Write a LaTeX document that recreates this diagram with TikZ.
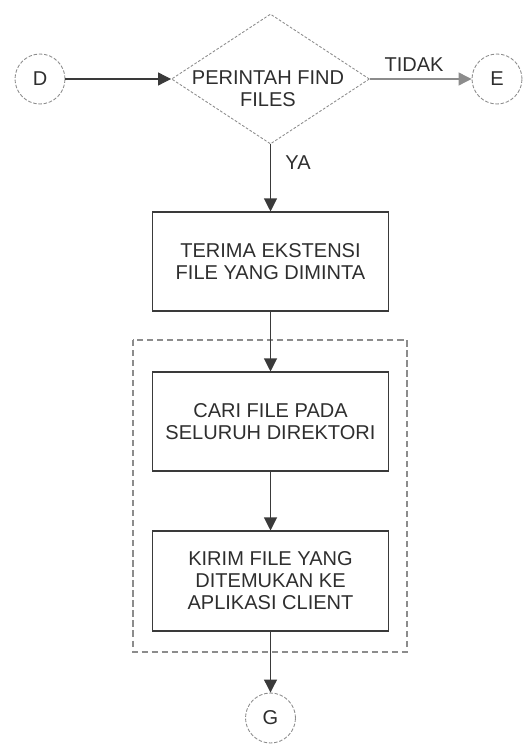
\documentclass[tikz,border=0pt]{standalone}
\usepackage{fontspec}
\setmainfont{Liberation Sans}
\usetikzlibrary{shapes.geometric, arrows.meta}

\definecolor{fcLine}{HTML}{3A3A3A}
\definecolor{fcSoft}{HTML}{8C8C8C}
\definecolor{fcText}{HTML}{2E2E2E}

\begin{document}
\begin{tikzpicture}[
  font=\fontsize{11.4}{12.5}\selectfont,
  text=fcText,
  proc/.style={draw=fcLine, line width=0.6pt, minimum width=4.72cm,
    minimum height=1.98cm, align=center, inner sep=0pt},
  conn/.style={circle, draw=fcSoft, line width=0.5pt,
    dash pattern=on 2pt off 1pt, minimum size=1.0cm, inner sep=0pt},
  decision/.style={diamond, draw=fcSoft, line width=0.5pt,
    dash pattern=on 1.5pt off 1pt, minimum width=3.96cm,
    minimum height=2.60cm, inner sep=0pt},
  flow/.style={-{Triangle[length=0.26cm, width=0.26cm]}, fcLine,
    line width=0.6pt},
  groupline/.style={fcSoft, line width=0.6pt, dash pattern=on 3.5pt off 2.2pt},
]

  \useasboundingbox (0,0) rectangle (10.44,-14.90);

  % --------------------------------------------------------------------------
  % Top row: D -> decision -> E
  % --------------------------------------------------------------------------
  \node[conn] (d) at (0.80,-1.58) {D};
  \node[decision] (cmd) at (5.41,-1.58) {};
  \node[align=center] (cmdtxt) at (5.36,-1.78) {PERINTAH FIND\\FILES};
  \node[conn] (e) at (9.94,-1.58) {E};

  \draw[flow] (d) -- (cmd);
  \draw[flow, fcSoft] (cmd) -- (e);

  \node (tidak) at (8.28,-1.30) {TIDAK};
  \node (ya) at (5.96,-3.26) {YA};

  % --------------------------------------------------------------------------
  % Process column
  % --------------------------------------------------------------------------
  \node[proc] (terima) at (5.41,-5.23) {TERIMA EKSTENSI\\FILE YANG DIMINTA};

  \draw[groupline] (2.66,-6.80) rectangle (8.14,-13.04);

  \node[proc] (cari) at (5.41,-8.43) {CARI FILE PADA\\SELURUH DIREKTORI};
  \node[proc, minimum height=2.00cm] (kirim) at (5.41,-11.62)
    {KIRIM FILE YANG\\DITEMUKAN KE\\APLIKASI CLIENT};

  \node[conn] (g) at (5.41,-14.36) {G};

  \draw[flow] (cmd) -- (terima);
  \draw[flow] (terima) -- (cari);
  \draw[flow] (cari) -- (kirim);
  \draw[flow] (kirim) -- (g);

\end{tikzpicture}
\end{document}
